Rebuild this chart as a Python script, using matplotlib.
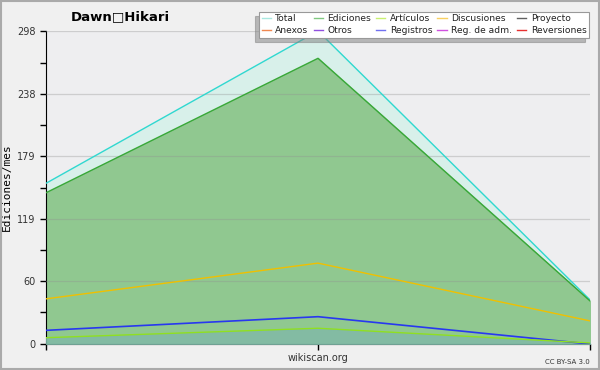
import matplotlib.pyplot as plt
from matplotlib.patches import Rectangle
from matplotlib.lines import Line2D

# monthly edit counts
months = [0, 1, 2]
total = [153, 298, 42]
ediciones = [144, 272, 41]
discusiones = [43, 77, 22]
registros = [13, 26, 0]
articulos = [6, 15, 1]

yticks = [0, 60, 119, 179, 238, 298]

legend_names = ["Total", "Anexos", "Ediciones", "Otros", "Artículos", "Registros",
                "Discusiones", "Reg. de adm.", "Proyecto", "Reversiones"]
legend_colors = ["#a8e8e0", "#f08850", "#80c880", "#9050e0", "#c8f070", "#7070f0",
                 "#f8d060", "#d050e0", "#606060", "#e83030"]

fig = plt.figure(figsize=(6, 3.7), dpi=100, facecolor="#f0f0f0")
ax = fig.add_axes([46 / 600, 1 - 344 / 370, 544 / 600, 313 / 370])
ax.set_facecolor("#eeeef0")

ax.fill_between(months, total, color="#d8f0ea", zorder=1)
ax.plot(months, total, color="#30d8d0", lw=1, zorder=5)
ax.fill_between(months, ediciones, color="#90c890", zorder=2)
ax.plot(months, ediciones, color="#38a838", lw=1, zorder=5)
ax.fill_between(months, articulos, color="#80b8a8", alpha=0.8, zorder=3)
ax.plot(months, discusiones, color="#f0c000", lw=1, zorder=5)
ax.plot(months, registros, color="#2838f0", lw=1.2, zorder=5)
ax.plot(months, articulos, color="#90e020", lw=1, zorder=5)

ax.set_xlim(0, 2)
ax.set_ylim(0, 298)
ax.set_yticks(yticks)
ax.set_yticks([(a + b) / 2 for a, b in zip(yticks[:-1], yticks[1:])], minor=True)
ax.set_xticks(months)
ax.set_xticklabels([])
for y in yticks[1:]:
    ax.axhline(y, color="#909090", alpha=0.35, lw=0.9, zorder=4)
for s in ["top", "right"]:
    ax.spines[s].set_visible(False)
ax.tick_params(axis="y", labelsize=7, colors="black", labelcolor="#333333", length=4, width=1)
ax.tick_params(axis="y", which="minor", length=4, width=1)
ax.tick_params(axis="x", length=4, width=1)
ax.set_ylabel("Ediciones/mes", fontsize=8, family="DejaVu Sans Mono", labelpad=4)

fig.text(120 / 600, 1 - 17 / 370, "Dawn\u25a1Hikari", fontsize=9.5, fontweight="bold",
         ha="center", va="center")
fig.text(318 / 600, 1 - 358 / 370, "wikiscan.org", fontsize=7, color="#333333",
         ha="center", va="center")
fig.text(590 / 600, 1 - 362 / 370, "CC BY-SA 3.0", fontsize=5, color="#333333",
         ha="right", va="center")

handles = [Line2D([], [], color=c, lw=1) for c in legend_colors]
leg = fig.legend(handles, legend_names, ncol=5, loc="upper right",
                 bbox_to_anchor=(594 / 600, 1 - 7 / 370), fontsize=6.6,
                 frameon=True, fancybox=False,
                 shadow={"ox": -3, "oy": -3, "color": "#808080"},
                 borderpad=0.3, labelspacing=0.3, handlelength=1.0,
                 handletextpad=0.5, columnspacing=0.55, edgecolor="#999999",
                 framealpha=1)
leg.get_frame().set_linewidth(0.8)
for t in leg.get_texts():
    t.set_color("#222222")

fig.patches.append(Rectangle((0.002, 0.003), 0.996, 0.994, transform=fig.transFigure,
                             fill=False, edgecolor="#aaaaaa", lw=1.5))

fig.savefig("out.png", dpi=100, facecolor=fig.get_facecolor())
